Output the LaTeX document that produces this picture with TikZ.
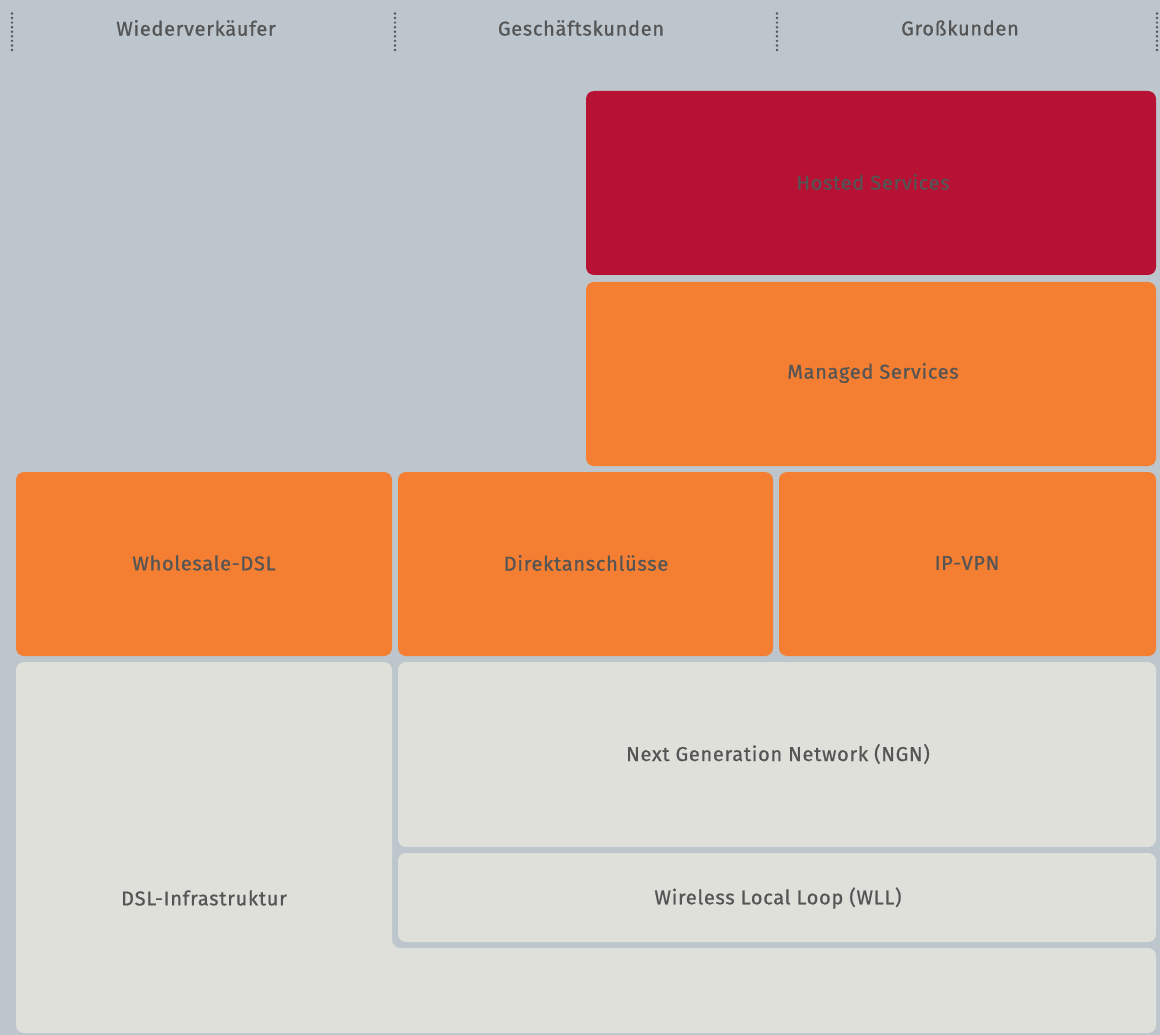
\documentclass[tikz,border=0pt]{standalone}
\usepackage{fontspec}
\usetikzlibrary{calc}
\setmainfont{Fira Sans}[LetterSpace=3.5,FakeBold=0.8]
\definecolor{bg}{HTML}{BCC6CC}
\definecolor{org}{HTML}{F47E31}
\definecolor{hred}{HTML}{B71234}
\definecolor{lgr}{HTML}{E0E0DB}
\definecolor{txt}{HTML}{555555}
\begin{document}
\begin{tikzpicture}[x=1pt,y=-1pt,
  box/.style={rounded corners=8pt},
  lbl/.style={text=txt,font=\fontsize{20}{24}\selectfont,inner sep=0pt,anchor=center},
  dotmark/.style={fill=txt}]
\fill[bg] (0,0) rectangle (1160,1035);
\useasboundingbox (0,0) rectangle (1160,1035);
% header separators
\foreach \x/\n in {12/s0,395/s1,777/s2,1157/s3}{
  \coordinate (\n t) at (\x,13.5);
  \coordinate (\n b) at (\x,50);
  \foreach \k in {0,...,8}{
    \fill[dotmark] ($(\n t)!\k/8!(\n b)$) circle (1.35pt);
  }
}
\node[lbl] (h1) at (196,28) {Wiederverkäufer};
\node[lbl] (h2) at (581,28) {Geschäftskunden};
\node[lbl] (h3) at (960,28) {Großkunden};
% boxes
\fill[box,hred] (586,91) rectangle (1156,275);
\node[lbl] (hosted) at (873,182) {Hosted Services};
\fill[box,org] (586,282) rectangle (1156,466);
\node[lbl] (managed) at (873,373) {Managed Services};
\fill[box,org] (16,472) rectangle (392,656);
\node[lbl] (wdsl) at (204,563) {Wholesale-DSL};
\fill[box,org] (398,472) rectangle (773,656);
\node[lbl] (direkt) at (586,563) {Direktanschlüsse};
\fill[box,org] (779,472) rectangle (1156,656);
\node[lbl] (ipvpn) at (967,563) {IP-VPN};
\fill[box,lgr] (16,662) -- (392,662) -- (392,948) -- (1156,948) -- (1156,1033) -- (16,1033) -- cycle;
\node[lbl] (dsl) at (204,898) {DSL-Infrastruktur};
\fill[box,lgr] (398,662) rectangle (1156,847);
\node[lbl] (ngn) at (778,754) {Next Generation Network (NGN)};
\fill[box,lgr] (398,853) rectangle (1156,942);
\node[lbl] (wll) at (778,898) {Wireless Local Loop (WLL)};
\end{tikzpicture}
\end{document}
